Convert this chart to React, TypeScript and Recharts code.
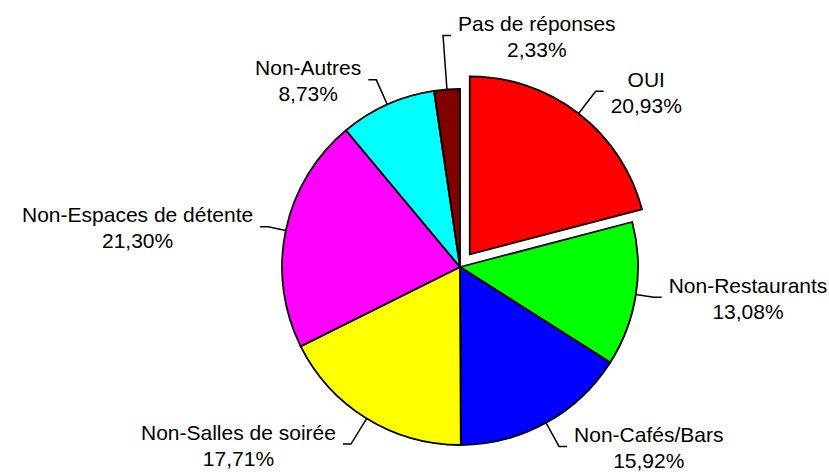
import React from 'react';
import { PieChart, Pie, Cell } from 'recharts';

const NAMES = [
  'OUI',
  'Non-Restaurants',
  'Non-Cafés/Bars',
  'Non-Salles de soirée',
  'Non-Espaces de détente',
  'Non-Autres',
  'Pas de réponses',
];
const VALUES = [20.93, 13.08, 15.92, 17.71, 21.3, 8.73, 2.33];
const COLORS = ['#FF0000', '#00FF00', '#0000FF', '#FFFF00', '#FF00FF', '#00FFFF', '#800000'];

// leader line: radial length and which side the text goes
const LEADER_LEN = [28, 18, 27, 30, 18, 27, 54];
const LEADER_SIDE = [1, 1, 1, -1, -1, -1, 1];

const FONT_SIZE = 21;
const FONT = `${FONT_SIZE}px 'Liberation Sans', Arial, sans-serif`;
const EXPLODE = 16;

const data = NAMES.map((name, i) => ({ name, value: VALUES[i] }));
const total = VALUES.reduce((a, b) => a + b, 0);

let ctx: CanvasRenderingContext2D | null = null;
const measure = (s: string) => {
  if (!ctx) ctx = document.createElement('canvas').getContext('2d');
  if (!ctx) return s.length * FONT_SIZE * 0.5;
  ctx.font = FONT;
  return ctx.measureText(s).width;
};

const fmt = (v: number) => v.toFixed(2).replace('.', ',') + '%';

const RADIAN = Math.PI / 180;

const makeLabel = (only: (i: number) => boolean) => (props: any) => {
  const { cx, cy, midAngle, outerRadius, index } = props;
  if (!only(index)) return null;
  const cos = Math.cos(-midAngle * RADIAN);
  const sin = Math.sin(-midAngle * RADIAN);
  const sx = cx + outerRadius * cos;
  const sy = cy + outerRadius * sin;
  const len = LEADER_LEN[index];
  const ex = cx + (outerRadius + len) * cos;
  const ey = cy + (outerRadius + len) * sin;
  const side = LEADER_SIDE[index];
  const hx = ex + side * 8;
  const l1 = NAMES[index];
  const l2 = fmt(VALUES[index]);
  const w = Math.max(measure(l1), measure(l2));
  const center = side > 0 ? hx + 7 + w / 2 : hx - 7 - w / 2;
  return (
    <g key={`lab-${index}`}>
      <polyline
        points={`${sx},${sy} ${ex},${ey} ${hx},${ey}`}
        fill="none"
        stroke="#000"
        strokeWidth={1.5}
      />
      <text x={center} y={ey - 4.5} textAnchor="middle" fontSize={FONT_SIZE} fill="#000"
        style={{ fontFamily: "'Liberation Sans', Arial, sans-serif" }}>
        {l1}
      </text>
      <text x={center} y={ey + 21.5} textAnchor="middle" fontSize={FONT_SIZE} fill="#000"
        style={{ fontFamily: "'Liberation Sans', Arial, sans-serif" }}>
        {l2}
      </text>
    </g>
  );
};

export default function App() {
  const cx = 460;
  const cy = 267;
  const r = 178;
  // OUI slice pulled out along its middle angle
  const ouiMid = (90 - (VALUES[0] / total) * 180) * RADIAN;
  const ocx = cx + EXPLODE * Math.cos(ouiMid);
  const ocy = cy - EXPLODE * Math.sin(ouiMid);

  return (
    <div style={{ position: 'absolute', left: 0, top: 0, width: 829, height: 472, background: '#fff' }}>
      <PieChart width={829} height={472} margin={{ top: 0, right: 0, bottom: 0, left: 0 }}>
        <Pie
          data={data}
          dataKey="value"
          cx={cx}
          cy={cy}
          outerRadius={r}
          startAngle={90}
          endAngle={-270}
          isAnimationActive={false}
          labelLine={false}
          label={makeLabel((i) => i !== 0)}
        >
          {data.map((d, i) => (
            <Cell
              key={`c-${i}`}
              fill={i === 0 ? 'none' : COLORS[i]}
              stroke={i === 0 ? 'none' : '#000'}
              strokeWidth={1.8}
            />
          ))}
        </Pie>
        <Pie
          data={data}
          dataKey="value"
          cx={ocx}
          cy={ocy}
          outerRadius={r}
          startAngle={90}
          endAngle={-270}
          isAnimationActive={false}
          labelLine={false}
          label={makeLabel((i) => i === 0)}
        >
          {data.map((d, i) => (
            <Cell
              key={`o-${i}`}
              fill={i === 0 ? COLORS[0] : 'none'}
              stroke={i === 0 ? '#000' : 'none'}
              strokeWidth={1.8}
            />
          ))}
        </Pie>
      </PieChart>
    </div>
  );
}
